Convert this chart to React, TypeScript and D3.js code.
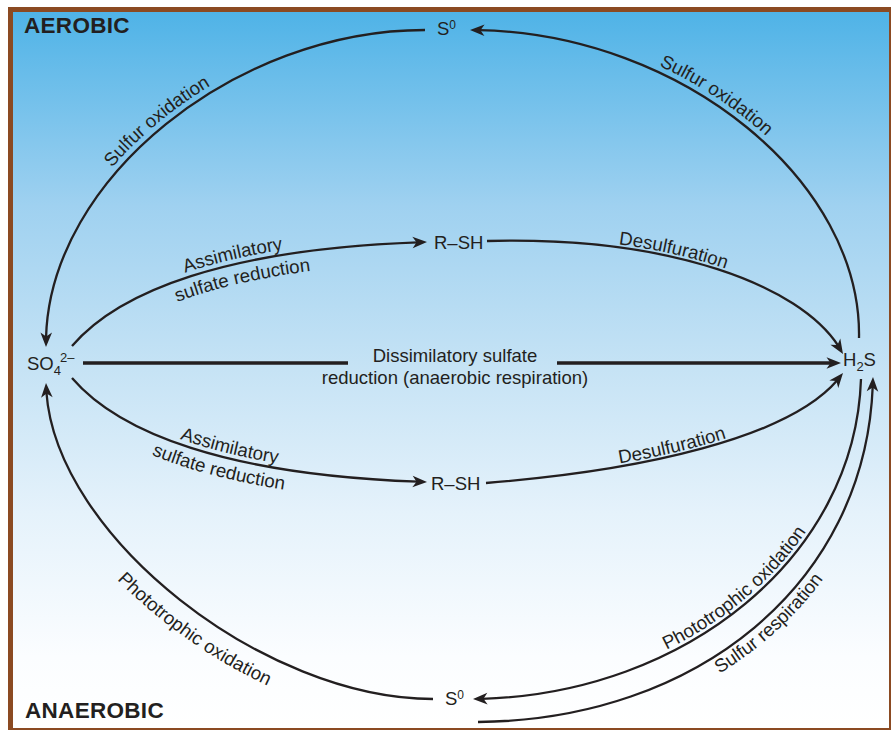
import React from "react";
import * as d3 from "d3";

type Pt = [number, number];
type Bez = [Pt, Pt, Pt, Pt];

const W = 891;
const H = 730;
const INK = "#231f20";
const FONT = "'Liberation Sans', Arial, Helvetica, sans-serif";

// ---- diagram data ----
const zoneLabels = [
  { text: "AEROBIC", x: 24, y: 32.5 },
  { text: "ANAEROBIC", x: 25, y: 718 },
];

// node labels: segments [text, kind]
const nodeLabels: { id: string; x: number; y: number; parts: [string, string][] }[] = [
  { id: "S0top", x: 437, y: 35, parts: [["S", ""], ["0", "sup"]] },
  { id: "SO4", x: 27, y: 370, parts: [["SO", ""], ["4", "sub"], ["2–", "sup2"]] },
  { id: "H2S", x: 843, y: 366, parts: [["H", ""], ["2", "sub"], ["S", ""]] },
  { id: "RSHtop", x: 434, y: 248.5, parts: [["R–SH", ""]] },
  { id: "RSHbot", x: 431, y: 490, parts: [["R–SH", ""]] },
  { id: "S0bot", x: 445, y: 705, parts: [["S", ""], ["0", "sup"]] },
];

// curved transformations as cubic Bezier control points
const edges: { id: string; ctrl: Bez }[] = [
  { id: "oxTopLeft", ctrl: [[425, 30], [232, 30], [43, 184], [46, 347]] },
  { id: "oxTopRight", ctrl: [[859, 338], [862, 180], [678, 30], [470, 30]] },
  { id: "photoLeft", ctrl: [[433, 699], [260, 699], [48, 530], [46, 383]] },
  { id: "photoRight", ctrl: [[861, 379], [855, 560], [680, 697], [473, 699]] },
  { id: "sulfResp", ctrl: [[478, 722], [700, 720], [870, 580], [873, 377]] },
  { id: "assimTop", ctrl: [[72, 346], [120, 290], [230, 248], [427, 242]] },
  { id: "desulfTop", ctrl: [[487, 241], [680, 236], [810, 290], [843, 354]] },
  { id: "assimBot", ctrl: [[72, 378], [120, 434], [230, 476], [427, 482]] },
  { id: "desulfBot", ctrl: [[486, 483], [650, 470], [800, 435], [843, 373]] },
];

// straight dissimilatory arrow: from, to, gap
const straightFrom: Pt = [83, 363];
const straightTo: Pt = [841, 363];
const straightGap = [348, 557];

const dissimLines = [
  { text: "Dissimilatory sulfate", x: 455, y: 362 },
  { text: "reduction (anaerobic respiration)", x: 455, y: 383.5 },
];

// labels along edges: edge, parameter t, offset (+ = glyph-up side), reversed reading
const edgeLabels: { edge: string; text: string; t: number; off: number; rev: boolean }[] = [
  { edge: "oxTopLeft", text: "Sulfur oxidation", t: 0.5, off: 6, rev: true },
  { edge: "oxTopRight", text: "Sulfur oxidation", t: 0.57, off: 6, rev: true },
  { edge: "assimTop", text: "Assimilatory", t: 0.61, off: 5, rev: false },
  { edge: "assimTop", text: "sulfate reduction", t: 0.62, off: -20, rev: false },
  { edge: "desulfTop", text: "Desulfuration", t: 0.365, off: 3, rev: false },
  { edge: "assimBot", text: "Assimilatory", t: 0.59, off: 5, rev: false },
  { edge: "assimBot", text: "sulfate reduction", t: 0.575, off: -20, rev: false },
  { edge: "desulfBot", text: "Desulfuration", t: 0.41, off: 3, rev: false },
  { edge: "photoLeft", text: "Phototrophic oxidation", t: 0.44, off: -27, rev: true },
  { edge: "photoRight", text: "Phototrophic oxidation", t: 0.49, off: 4, rev: true },
  { edge: "sulfResp", text: "Sulfur respiration", t: 0.515, off: -17, rev: false },
];

// ---- geometry helpers ----
function bez(p: Bez, t: number): Pt {
  const u = 1 - t;
  const a = u * u * u, b = 3 * u * u * t, c = 3 * u * t * t, d = t * t * t;
  return [
    a * p[0][0] + b * p[1][0] + c * p[2][0] + d * p[3][0],
    a * p[0][1] + b * p[1][1] + c * p[2][1] + d * p[3][1],
  ];
}
function deriv(p: Bez, t: number): Pt {
  const u = 1 - t;
  return [
    3 * u * u * (p[1][0] - p[0][0]) + 6 * u * t * (p[2][0] - p[1][0]) + 3 * t * t * (p[3][0] - p[2][0]),
    3 * u * u * (p[1][1] - p[0][1]) + 6 * u * t * (p[2][1] - p[1][1]) + 3 * t * t * (p[3][1] - p[2][1]),
  ];
}
const lerp = (a: Pt, b: Pt, t: number): Pt => [a[0] + (b[0] - a[0]) * t, a[1] + (b[1] - a[1]) * t];
function splitFirst(p: Bez, t: number): Bez {
  const q0 = lerp(p[0], p[1], t), q1 = lerp(p[1], p[2], t), q2 = lerp(p[2], p[3], t);
  const r0 = lerp(q0, q1, t), r1 = lerp(q1, q2, t);
  const s = lerp(r0, r1, t);
  return [p[0], q0, r0, s];
}
const dist = (a: Pt, b: Pt) => Math.hypot(a[0] - b[0], a[1] - b[1]);
function tAtDistFromEnd(p: Bez, d: number): number {
  let lo = 0, hi = 1;
  for (let i = 0; i < 40; i++) {
    const m = (lo + hi) / 2;
    if (dist(bez(p, m), p[3]) > d) lo = m; else hi = m;
  }
  return (lo + hi) / 2;
}

const AL = 14.5, AHW = 5.8, ANOTCH = 4;
function arrowHead(tip: Pt, from: Pt) {
  const ang = (Math.atan2(tip[1] - from[1], tip[0] - from[0]) * 180) / Math.PI;
  const d = `M0,0L${-AL},${-AHW}L${-AL + ANOTCH},0L${-AL},${AHW}Z`;
  return <path d={d} fill={INK} transform={`translate(${tip[0]},${tip[1]}) rotate(${ang})`} />;
}

function labelPath(p: Bez, off: number, rev: boolean, tLabel: number) {
  const N = 300;
  const pts: Pt[] = [];
  for (let i = 0; i <= N; i++) {
    const t = i / N;
    const pt = bez(p, t);
    let [dx, dy] = deriv(p, t);
    if (rev) { dx = -dx; dy = -dy; }
    const len = Math.hypot(dx, dy) || 1;
    const nx = dy / len, ny = -dx / len;
    pts.push([pt[0] + nx * off, pt[1] + ny * off]);
  }
  if (rev) pts.reverse();
  const cum = [0];
  for (let i = 1; i < pts.length; i++) cum.push(cum[i - 1] + dist(pts[i], pts[i - 1]));
  const idx = Math.round((rev ? 1 - tLabel : tLabel) * N);
  const line = d3.line<Pt>().x((d) => d[0]).y((d) => d[1]);
  return { d: line(pts) || "", offset: cum[idx] };
}

export default function App() {
  const edgeMap = new Map(edges.map((e) => [e.id, e.ctrl]));

  const edgeEls = edges.map((e) => {
    const p = e.ctrl;
    const tShort = tAtDistFromEnd(p, 9);
    const tBack = tAtDistFromEnd(p, AL);
    const s = splitFirst(p, tShort);
    const path = d3.path();
    path.moveTo(s[0][0], s[0][1]);
    path.bezierCurveTo(s[1][0], s[1][1], s[2][0], s[2][1], s[3][0], s[3][1]);
    return (
      <g key={e.id}>
        <path d={path.toString()} fill="none" stroke={INK} strokeWidth={2.3} />
        {arrowHead(p[3], bez(p, tBack))}
      </g>
    );
  });

  const sp = d3.path();
  sp.moveTo(straightFrom[0], straightFrom[1]);
  sp.lineTo(straightGap[0], straightFrom[1]);
  sp.moveTo(straightGap[1], straightTo[1]);
  sp.lineTo(straightTo[0] - 9, straightTo[1]);

  const labelEls = edgeLabels.map((l, i) => {
    const p = edgeMap.get(l.edge)!;
    const lp = labelPath(p, l.off, l.rev, l.t);
    return (
      <g key={i}>
        <path id={`lp${i}`} d={lp.d} fill="none" stroke="none" />
        <text fontSize={18.7} fill={INK} fontFamily={FONT}>
          <textPath href={`#lp${i}`} startOffset={lp.offset} textAnchor="middle">
            {l.text}
          </textPath>
        </text>
      </g>
    );
  });

  const nodeEls = nodeLabels.map((n) => (
    <text key={n.id} x={n.x} y={n.y} fontSize={18.5} fill={INK} fontFamily={FONT}>
      {n.parts.map(([t, k], j) => {
        if (k === "sub") return <tspan key={j} y={n.y + 4.5} fontSize={13}>{t}</tspan>;
        if (k === "sup") return <tspan key={j} y={n.y - 6} fontSize={12}>{t}</tspan>;
        if (k === "sup2") return <tspan key={j} y={n.y - 8} fontSize={13} dx={-1}>{t}</tspan>;
        return <tspan key={j} y={n.y}>{t}</tspan>;
      })}
    </text>
  ));

  return (
    <svg width={W} height={H} style={{ position: "absolute", left: 0, top: 0 }}>
      <defs>
        <linearGradient id="bg" x1="0" y1="0" x2="0" y2="1">
          <stop offset="0" stopColor="#4fb3e7" />
          <stop offset="0.27" stopColor="#9fd1f0" />
          <stop offset="0.5" stopColor="#c6e3f5" />
          <stop offset="0.7" stopColor="#e5f2fb" />
          <stop offset="0.9" stopColor="#fbfdff" />
          <stop offset="1" stopColor="#ffffff" />
        </linearGradient>
      </defs>
      <rect x={8} y={7} width={W - 8} height={H - 7} fill="#8b4a22" />
      <rect x={13} y={12} width={876} height={716} fill="url(#bg)" />
      {zoneLabels.map((z) => (
        <text key={z.text} x={z.x} y={z.y} fontSize={22.5} fontWeight="bold" fill={INK} fontFamily={FONT} letterSpacing={0.3}>
          {z.text}
        </text>
      ))}
      {edgeEls}
      <path d={sp.toString()} fill="none" stroke={INK} strokeWidth={3.3} />
      {arrowHead(straightTo, [straightTo[0] - 20, straightTo[1]])}
      {dissimLines.map((d) => (
        <text key={d.text} x={d.x} y={d.y} fontSize={18.5} textAnchor="middle" fill={INK} fontFamily={FONT}>
          {d.text}
        </text>
      ))}
      {labelEls}
      {nodeEls}
    </svg>
  );
}
